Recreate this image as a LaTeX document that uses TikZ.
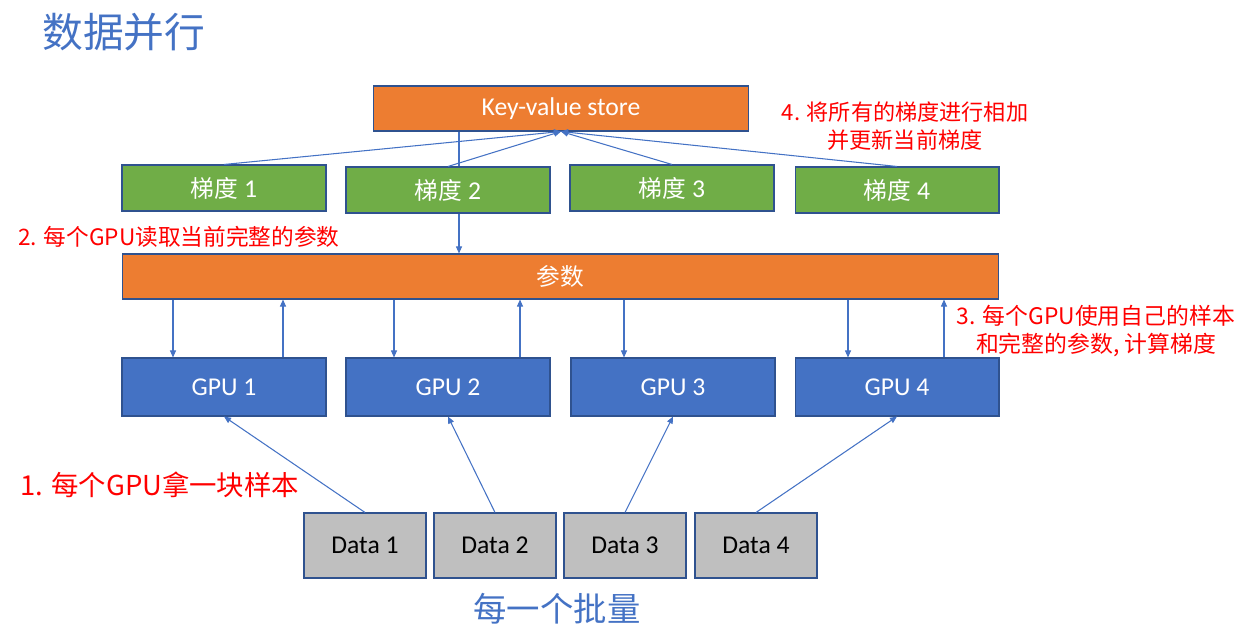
\documentclass[tikz,border=0pt]{standalone}
\usepackage{fontspec}
\setmainfont{Carlito}
\newfontfamily\cjk{Noto Sans CJK SC}
\usetikzlibrary{arrows.meta,backgrounds}

\definecolor{pptorange}{HTML}{ED7D31}
\definecolor{pptgreen}{HTML}{70AD47}
\definecolor{pptblue}{HTML}{4472C4}
\definecolor{pptgray}{HTML}{BFBFBF}
\definecolor{pptedge}{HTML}{2F528F}

\begin{document}
\begin{tikzpicture}[x=0.02cm, y=-0.02cm, >={Triangle[length=4pt,width=3.4pt]},
  box/.style={rectangle, draw=pptedge, line width=0.6pt, text=white, inner sep=0pt, font=\fontsize{14.6}{17}\selectfont},
  kvbox/.style={box, fill=pptorange, minimum width=7.52cm, minimum height=0.9cm},
  gradbox/.style={box, fill=pptgreen, minimum width=4.08cm, minimum height=0.92cm},
  parambox/.style={box, fill=pptorange, minimum width=17.54cm, minimum height=0.9cm},
  gpubox/.style={box, fill=pptblue, minimum width=4.08cm, minimum height=1.16cm},
  databox/.style={box, fill=pptgray, text=black, minimum width=2.44cm, minimum height=1.3cm},
  note/.style={text=red, inner sep=0pt, align=center, font=\cjk\fontsize{12.7}{16}\selectfont},
  link/.style={draw=pptblue, line width=0.6pt}]

\useasboundingbox (0,0) rectangle (1241,638);

% titles
\node[anchor=west, text=pptblue, inner sep=0pt, font=\cjk\fontsize{23.2}{27}\selectfont] (titel) at (42,32) {数据并行};
\node[text=pptblue, inner sep=0pt, font=\cjk\fontsize{19}{22}\selectfont] (batch) at (557,609) {每一个批量};

% boxes
\node[kvbox] (kv) at (561,108.5) {Key-value store};
\node[gradbox] (g1) at (224,188) {{\cjk\fontsize{13.5}{16}\selectfont 梯度} 1};
\node[gradbox] (g2) at (448,190) {{\cjk\fontsize{13.5}{16}\selectfont 梯度} 2};
\node[gradbox] (g3) at (672,188) {{\cjk\fontsize{13.5}{16}\selectfont 梯度} 3};
\node[gradbox] (g4) at (897,190) {{\cjk\fontsize{13.5}{16}\selectfont 梯度} 4};
\node[parambox] (par) at (560.5,276.5) {\cjk\fontsize{13.5}{16}\selectfont 参数};
\node[gpubox] (gpu1) at (224,387) {GPU 1};
\node[gpubox] (gpu2) at (448,387) {GPU 2};
\node[gpubox] (gpu3) at (673,387) {GPU 3};
\node[gpubox] (gpu4) at (897,387) {GPU 4};
\node[databox] (d1) at (365,545.5) {Data 1};
\node[databox] (d2) at (495,545.5) {Data 2};
\node[databox] (d3) at (625,545.5) {Data 3};
\node[databox] (d4) at (756,545.5) {Data 4};

% notes
\node[note, anchor=west, font=\cjk\fontsize{15.6}{19}\selectfont] (n1) at (20,485) {1. 每个GPU拿一块样本};
\node[note, anchor=west, font=\cjk\fontsize{12.9}{15}\selectfont] (n2) at (18,237) {2. 每个GPU读取当前完整的参数};
\node[note, font=\cjk\fontsize{13}{16}\selectfont] (n3) at (1096,331) {3. 每个GPU使用自己的样本\\和完整的参数, 计算梯度};
\node[note, font=\cjk\fontsize{12.6}{16}\selectfont] (n4) at (905,126) {4. 将所有的梯度进行相加\\并更新当前梯度};

% kv store -> parameters (behind gradient 2)
\begin{scope}[on background layer]
\draw[link, ->] (459,0 |- kv.south) -- (459,0 |- par.north);
\end{scope}

% gradients -> kv store
\draw[link, ->] (g1.north) -- (kv.south);
\draw[link, ->] (g2.north) -- (kv.south);
\draw[link, ->] (g3.north) -- (kv.south);
\draw[link, ->] (g4.north) -- (kv.south);

% parameters <-> gpus
\draw[link, ->] (173,0 |- par.south) -- (173,0 |- gpu1.north);
\draw[link, ->] (283,0 |- gpu1.north) -- (283,0 |- par.south);
\draw[link, ->] (394,0 |- par.south) -- (394,0 |- gpu2.north);
\draw[link, ->] (520,0 |- gpu2.north) -- (520,0 |- par.south);
\draw[link, ->] (624,0 |- par.south) -- (624,0 |- gpu3.north);
\draw[link, ->] (848,0 |- par.south) -- (848,0 |- gpu4.north);
\draw[link, ->] (944,0 |- gpu4.north) -- (944,0 |- par.south);

% data -> gpus
\draw[link, ->] (d1.north) -- (gpu1.south);
\draw[link, ->] (d2.north) -- (gpu2.south);
\draw[link, ->] (d3.north) -- (gpu3.south);
\draw[link, ->] (d4.north) -- (gpu4.south);
\end{tikzpicture}
\end{document}
